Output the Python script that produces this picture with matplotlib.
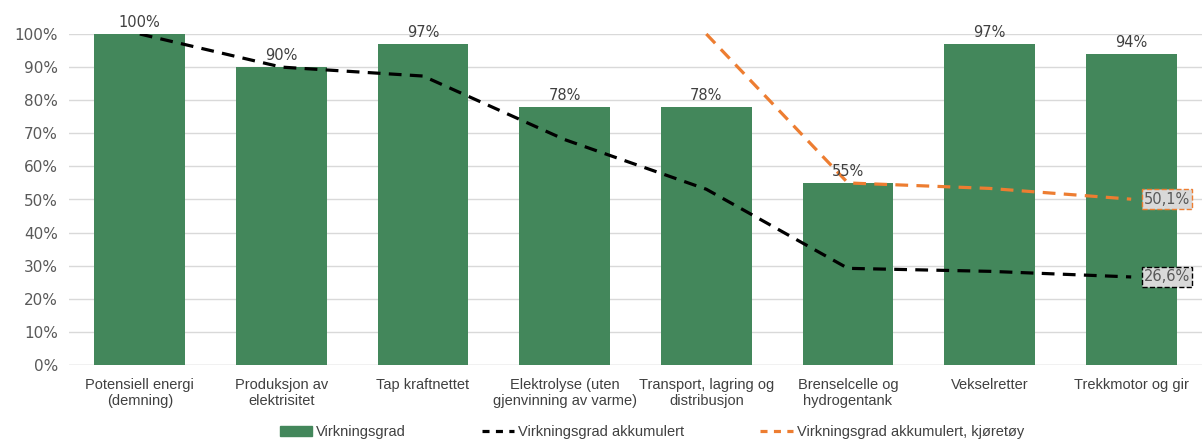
import matplotlib
matplotlib.use("Agg")
import matplotlib.pyplot as plt
from matplotlib.lines import Line2D
from matplotlib.patches import Patch
import numpy as np

categories = ["Potensiell energi\n(demning)", "Produksjon av\nelektrisitet", "Tap kraftnettet",
              "Elektrolyse (uten\ngjenvinning av varme)", "Transport, lagring og\ndistribusjon",
              "Brenselcelle og\nhydrogentank", "Vekselretter", "Trekkmotor og gir"]
efficiency = [1.00, 0.90, 0.97, 0.78, 0.78, 0.55, 0.97, 0.94]
bar_labels = ["100%", "90%", "97%", "78%", "78%", "55%", "97%", "94%"]
accum = [1.00, 0.90, 0.873, 0.681, 0.531, 0.292, 0.283, 0.266]
accum_vehicle_idx = [4, 5, 6, 7]
accum_vehicle = [1.00, 0.55, 0.5335, 0.501]
end_labels = ["26,6%", "50,1%"]
yticks = [0, 0.1, 0.2, 0.3, 0.4, 0.5, 0.6, 0.7, 0.8, 0.9, 1.0]
ytick_labels = ["0%", "10%", "20%", "30%", "40%", "50%", "60%", "70%", "80%", "90%", "100%"]

GREEN = "#43875B"
ORANGE = "#ED7D31"
TXT = "#595959"
GRID = "#D9D9D9"

plt.rcParams['font.family'] = ['Liberation Sans', 'DejaVu Sans']

fig = plt.figure(figsize=(12.02, 4.40), dpi=100)
ax = fig.add_axes([69/1202, 1 - 365/440, 1133/1202, 331/440])

x = np.arange(len(categories))
ax.bar(x, efficiency, width=0.64, color=GREEN, zorder=2)
for xi, v, lab in zip(x, efficiency, bar_labels):
    ax.text(xi, v + 0.012, lab, ha="center", va="bottom", fontsize=10.5, color="#404040",
            family=['DejaVu Sans'], zorder=5)

ax.plot(x, accum, color="black", lw=2.3, linestyle=(0, (4, 2.6)), zorder=3)
ax.plot(accum_vehicle_idx, accum_vehicle, color=ORANGE, lw=2.3, linestyle=(0, (4, 2.6)),
        zorder=3, clip_on=False)

ax.annotate(end_labels[0], (x[-1], accum[-1]), xytext=(9, 0), textcoords="offset points",
            ha="left", va="center", fontsize=10.5, color=TXT, family=['DejaVu Sans'], zorder=6,
            bbox=dict(boxstyle="square,pad=0.15", fc="#D9D9D9", ec="black", ls="--", lw=1))
ax.annotate(end_labels[1], (accum_vehicle_idx[-1], accum_vehicle[-1]), xytext=(9, 0),
            textcoords="offset points", ha="left", va="center", fontsize=10.5, color=TXT,
            family=['DejaVu Sans'], zorder=6,
            bbox=dict(boxstyle="square,pad=0.15", fc="#D9D9D9", ec=ORANGE, ls="--", lw=1))

ax.set_xlim(-0.5, len(categories) - 0.5)
ax.set_ylim(0, 1.0)
ax.set_yticks(yticks)
ax.set_yticklabels(ytick_labels, color=TXT, fontsize=11, family=['DejaVu Sans'])
ax.set_xticks(x)
ax.set_xticklabels(categories, color="#404040", fontsize=10.5)
ax.tick_params(length=0, pad=8)
ax.tick_params(axis="x", pad=9)
ax.grid(axis="y", color=GRID, lw=1, zorder=0)
ax.set_axisbelow(True)
for s in ax.spines.values():
    s.set_visible(False)
ax.axhline(0, color=GRID, lw=1, zorder=1)

handles = [Patch(color=GREEN), Line2D([], [], color="black", lw=2.3, ls=(0, (2.2, 2))),
           Line2D([], [], color=ORANGE, lw=2.3, ls=(0, (2.2, 2)))]
labels = ["Virkningsgrad", "Virkningsgrad akkumulert", "Virkningsgrad akkumulert, kjøretøy"]
fig.legend(handles, labels, loc="center", bbox_to_anchor=(652/1202, 1 - 432/440), ncol=3,
           frameon=False, fontsize=10.5, labelcolor="#404040", columnspacing=5.2,
           handlelength=2.2, handletextpad=0.3)

fig.savefig("out.png", dpi=100)
